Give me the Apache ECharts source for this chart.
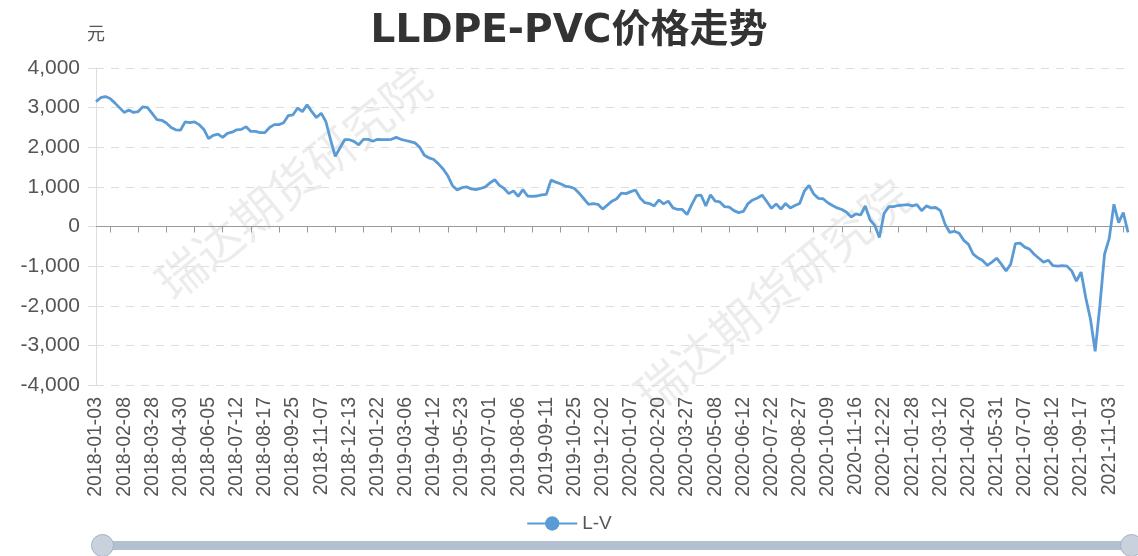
<!DOCTYPE html>
<html>
<head>
<meta charset="utf-8">
<script src="https://cdn.jsdelivr.net/npm/echarts@6/dist/echarts.min.js"></script>
<style>
  html, body { margin: 0; padding: 0; background: #fff; }
  #main { width: 1138px; height: 556px; }
</style>
</head>
<body>
<div id="main"></div>
<script>
// 日期（每段约一周取一个点）
const dates = [
  '2018-01-03','2018-01-09','2018-01-15','2018-01-19','2018-01-25','2018-02-01',
  '2018-02-08','2018-02-13','2018-02-27','2018-03-06','2018-03-13','2018-03-20',
  '2018-03-28','2018-04-03','2018-04-10','2018-04-13','2018-04-19','2018-04-25',
  '2018-04-30','2018-05-07','2018-05-11','2018-05-17','2018-05-23','2018-05-29',
  '2018-06-05','2018-06-11','2018-06-15','2018-06-22','2018-06-28','2018-07-05',
  '2018-07-12','2018-07-18','2018-07-24','2018-07-30','2018-08-03','2018-08-10',
  '2018-08-17','2018-08-23','2018-08-29','2018-09-04','2018-09-10','2018-09-14',
  '2018-09-25','2018-09-28','2018-10-12','2018-10-18','2018-10-24','2018-10-31',
  '2018-11-07','2018-11-13','2018-11-19','2018-11-23','2018-11-29','2018-12-06',
  '2018-12-13','2018-12-19','2018-12-25','2018-12-28','2019-01-07','2019-01-14',
  '2019-01-22','2019-01-28','2019-02-01','2019-02-15','2019-02-21','2019-02-27',
  '2019-03-06','2019-03-12','2019-03-18','2019-03-22','2019-03-28','2019-04-04',
  '2019-04-12','2019-04-18','2019-04-24','2019-04-30','2019-05-09','2019-05-16',
  '2019-05-23','2019-05-29','2019-06-04','2019-06-12','2019-06-18','2019-06-24',
  '2019-07-01','2019-07-05','2019-07-11','2019-07-17','2019-07-23','2019-07-31',
  '2019-08-06','2019-08-12','2019-08-16','2019-08-22','2019-08-28','2019-09-04',
  '2019-09-11','2019-09-19','2019-09-25','2019-10-08','2019-10-14','2019-10-18',
  '2019-10-25','2019-10-31','2019-11-06','2019-11-12','2019-11-18','2019-11-26',
  '2019-12-02','2019-12-06','2019-12-12','2019-12-18','2019-12-24','2019-12-31',
  '2020-01-07','2020-01-13','2020-01-17','2020-01-23','2020-02-07','2020-02-14',
  '2020-02-20','2020-02-26','2020-03-03','2020-03-09','2020-03-13','2020-03-20',
  '2020-03-27','2020-04-02','2020-04-10','2020-04-16','2020-04-22','2020-04-28',
  '2020-05-08','2020-05-14','2020-05-20','2020-05-26','2020-06-01','2020-06-05',
  '2020-06-12','2020-06-18','2020-06-29','2020-07-03','2020-07-09','2020-07-15',
  '2020-07-22','2020-07-28','2020-08-03','2020-08-07','2020-08-13','2020-08-20',
  '2020-08-27','2020-09-02','2020-09-08','2020-09-14','2020-09-18','2020-09-25',
  '2020-10-09','2020-10-15','2020-10-21','2020-10-27','2020-11-02','2020-11-09',
  '2020-11-16','2020-11-20','2020-11-26','2020-12-02','2020-12-08','2020-12-15',
  '2020-12-22','2020-12-28','2021-01-04','2021-01-08','2021-01-14','2021-01-21',
  '2021-01-28','2021-02-03','2021-02-09','2021-02-22','2021-02-26','2021-03-05',
  '2021-03-12','2021-03-18','2021-03-24','2021-03-30','2021-04-07','2021-04-13',
  '2021-04-20','2021-04-26','2021-05-06','2021-05-12','2021-05-18','2021-05-25',
  '2021-05-31','2021-06-04','2021-06-10','2021-06-18','2021-06-24','2021-06-30',
  '2021-07-07','2021-07-13','2021-07-19','2021-07-23','2021-07-29','2021-08-05',
  '2021-08-12','2021-08-18','2021-08-24','2021-08-30','2021-09-03','2021-09-09',
  '2021-09-17','2021-09-27','2021-10-11','2021-10-15','2021-10-21','2021-10-27',
  '2021-11-03','2021-11-09','2021-11-15','2021-11-19','2021-11-25'
];

// x轴显示的日期
const tickLabels = [
  '2018-01-03','2018-02-08','2018-03-28','2018-04-30','2018-06-05','2018-07-12',
  '2018-08-17','2018-09-25','2018-11-07','2018-12-13','2019-01-22','2019-03-06',
  '2019-04-12','2019-05-23','2019-07-01','2019-08-06','2019-09-11','2019-10-25',
  '2019-12-02','2020-01-07','2020-02-20','2020-03-27','2020-05-08','2020-06-12',
  '2020-07-22','2020-08-27','2020-10-09','2020-11-16','2020-12-22','2021-01-28',
  '2021-03-12','2021-04-20','2021-05-31','2021-07-07','2021-08-12','2021-09-17',
  '2021-11-03'
];

// L-V 价差（元）
const lvValues = [
  3150, 3250, 3280, 3230, 3120, 3000,
  2880, 2940, 2880, 2900, 3020, 3000,
  2850, 2700, 2680, 2610, 2500, 2440,
  2430, 2640, 2620, 2640, 2570, 2450,
  2220, 2300, 2330, 2250, 2350, 2380,
  2440, 2450, 2520, 2400, 2400, 2370,
  2370, 2500, 2570, 2570, 2620, 2800,
  2820, 2990, 2900, 3070, 2900, 2750,
  2860, 2650, 2190, 1770, 1980, 2190,
  2190, 2150, 2060, 2200, 2200, 2150,
  2200, 2190, 2190, 2200, 2250, 2200,
  2170, 2140, 2110, 2000, 1800, 1730,
  1690, 1580, 1450, 1280, 1030, 920,
  980, 1000, 950, 930, 960, 1000,
  1100, 1180, 1040, 960, 830, 900,
  760, 930, 770, 760, 770, 800,
  810, 1170, 1120, 1080, 1020, 1000,
  960, 840, 700, 560, 580, 560,
  440, 540, 640, 700, 840, 830,
  880, 920, 720, 600, 580, 520,
  670, 570, 640, 470, 430, 430,
  300, 550, 780, 790, 520, 800,
  640, 620, 500, 490, 400, 350,
  380, 580, 670, 720, 790, 630,
  460, 570, 440, 580, 470, 530,
  580, 890, 1040, 820, 710, 700,
  600, 530, 470, 430, 360, 240,
  320, 290, 520, 170, 30, -280,
  330, 500, 500, 530, 540, 550,
  520, 550, 400, 520, 470, 480,
  400, 60, -150, -120, -170, -350,
  -450, -700, -790, -860, -980, -900,
  -800, -950, -1120, -950, -430, -420,
  -520, -570, -700, -800, -900, -850,
  -990, -1000, -990, -1000, -1120, -1380,
  -1150, -1800, -2340, -3150, -2000, -700,
  -300, 560, 100, 350, -150
];

const lineColor = '#5b9bd5';
const chart = echarts.init(document.getElementById('main'));

const watermark = (x, y) => ({ // 水印
  type: 'text',
  x: x,
  y: y,
  rotation: 0.68,
  silent: true,
  z: 0,
  style: {
    text: '瑞达期货研究院',
    fontSize: 48,
    fontFamily: 'Noto Sans CJK SC',
    fill: 'rgba(0,0,0,0.075)',
    textAlign: 'center',
    textVerticalAlign: 'middle'
  }
});

chart.setOption({
  backgroundColor: '#fff',
  animation: false,
  title: {
    text: 'LLDPE-PVC价格走势',
    left: 'center',
    top: 7,
    textStyle: {
      fontSize: 39,
      fontWeight: 'bold',
      color: '#333',
      fontFamily: "'DejaVu Sans', 'Noto Sans CJK SC'"
    }
  },
  graphic: [watermark(293, 183), watermark(772, 295)],
  legend: {
    data: ['L-V'],
    left: 'center',
    top: 509,
    itemWidth: 50,
    itemHeight: 18,
    itemGap: 10,
    textStyle: { fontSize: 19, color: '#555', fontFamily: 'Liberation Sans' }
  },
  grid: { left: 96, right: 10, top: 68, bottom: 171 },
  xAxis: [
    {
      type: 'category',
      data: dates,
      boundaryGap: false,
      position: 'bottom',
      axisLine: { onZero: true, lineStyle: { color: '#999', width: 1 } },
      axisTick: { interval: (i) => i % 6 === 3, length: 6, lineStyle: { color: '#999' } },
      axisLabel: { show: false },
      splitLine: { show: false }
    },
    {
      type: 'category',
      data: dates,
      boundaryGap: false,
      position: 'bottom',
      axisLine: { show: false, onZero: false },
      axisTick: { show: false },
      axisLabel: {
        interval: (i, v) => tickLabels.indexOf(v) > -1,
        rotate: 90,
        margin: 12,
        fontSize: 19.5,
        color: '#555',
        fontFamily: 'Liberation Sans'
      },
      splitLine: { show: false }
    }
  ],
  yAxis: {
    type: 'value',
    name: '元',
    nameGap: 26,
    nameTextStyle: { fontSize: 18, color: '#555', fontFamily: 'Noto Sans CJK SC' },
    min: -4000,
    max: 4000,
    interval: 1000,
    axisLine: { show: true, lineStyle: { color: '#ddd' } },
    axisTick: { show: true, length: 8, lineStyle: { color: '#ddd' } },
    axisLabel: {
      margin: 16,
      fontSize: 21,
      color: '#555',
      fontFamily: 'Liberation Sans',
      formatter: (v) => v.toLocaleString('en-US')
    },
    splitLine: { lineStyle: { color: '#ddd', type: [8, 7] } }
  },
  dataZoom: [{
    type: 'slider',
    xAxisIndex: [0, 1],
    start: 0,
    end: 100,
    left: 100,
    right: 7,
    bottom: 6,
    height: 9,
    showDataShadow: false,
    showDetail: false,
    brushSelect: false,
    moveHandleSize: 0,
    borderColor: 'transparent',
    backgroundColor: '#e3e8ee',
    fillerColor: 'rgba(170,184,204,0.85)',
    handleIcon: 'circle',
    handleSize: 22,
    handleStyle: { color: '#c9d1dc', borderColor: '#a7b3c3', borderWidth: 1 }
  }],
  series: [{
    name: 'L-V',
    type: 'line',
    xAxisIndex: 0,
    data: lvValues,
    symbol: 'circle',
    symbolSize: 10,
    showSymbol: false,
    lineStyle: { color: lineColor, width: 2.8 },
    itemStyle: { color: lineColor },
    z: 3
  }]
});
</script>
</body>
</html>
